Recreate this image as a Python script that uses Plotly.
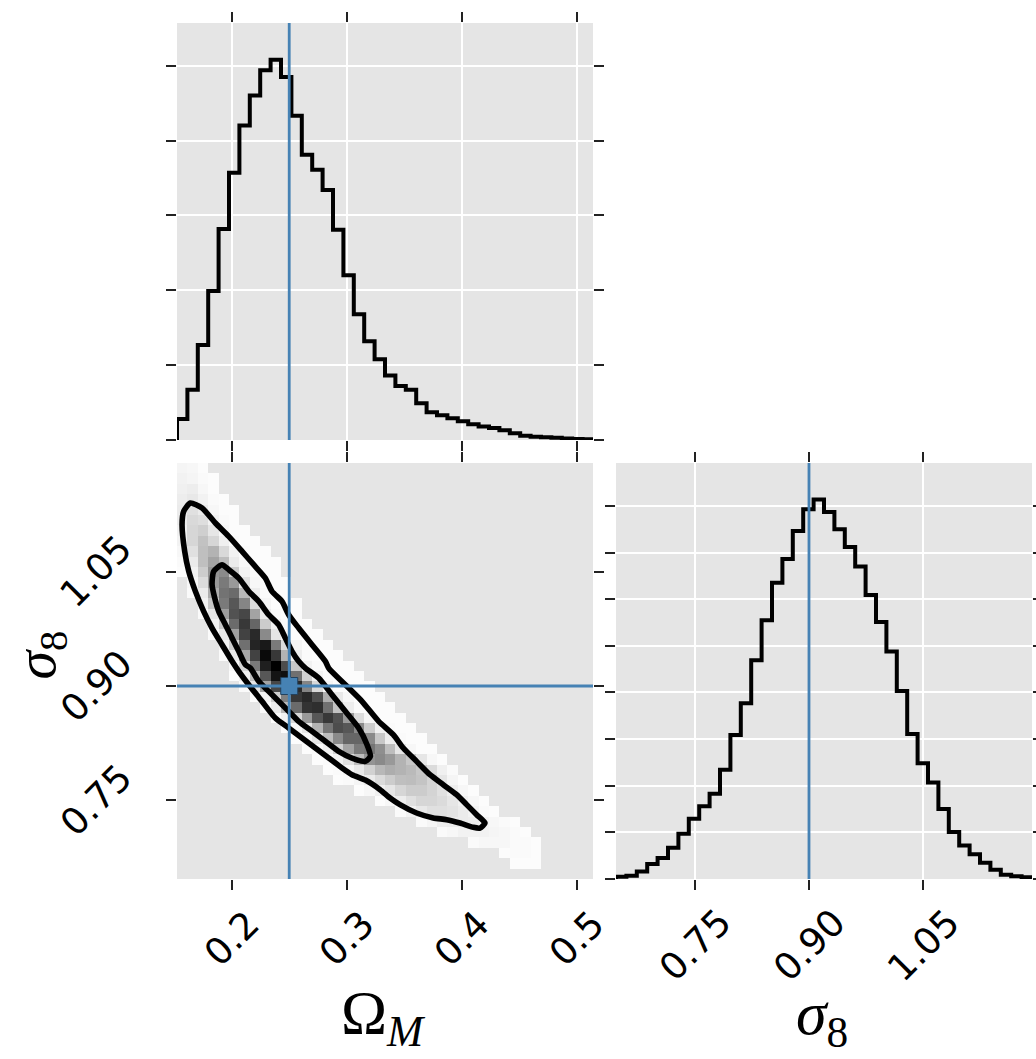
import numpy as np
import plotly.graph_objects as go

# ---------------------------------------------------------------- data
# sample extents of the two parameters (histogram ranges)
OM_RANGE = (0.1524, 0.5142)
S8_RANGE = (0.6467, 1.1927)
N_BINS = 40

# true parameter values
OM_TRUE = 0.25
S8_TRUE = 0.90

om_ticks = [0.2, 0.3, 0.4, 0.5]
om_ticklabels = ["0.2", "0.3", "0.4", "0.5"]
s8_ticks = [0.75, 0.90, 1.05]
s8_ticklabels = ["0.75", "0.90", "1.05"]

# 1D marginal histogram of Omega_M (arbitrary count units)
om_hist = [0.28, 0.67, 1.27, 1.99, 2.82, 3.57, 4.20, 4.60, 4.94, 5.08,
           4.85, 4.33, 3.81, 3.61, 3.34, 2.81, 2.20, 1.68, 1.32, 1.08,
           0.86, 0.72, 0.67, 0.49, 0.37, 0.33, 0.29, 0.25, 0.21, 0.18,
           0.16, 0.13, 0.09, 0.057, 0.044, 0.036, 0.03, 0.02, 0.015, 0.01]

# 1D marginal histogram of sigma_8 (arbitrary count units)
s8_hist = [0.05, 0.07, 0.16, 0.32, 0.45, 0.67, 0.97, 1.29, 1.56, 1.83,
           2.34, 3.09, 3.77, 4.69, 5.55, 6.35, 6.86, 7.46, 7.93, 8.14,
           7.87, 7.50, 7.12, 6.70, 6.09, 5.51, 4.88, 4.03, 3.11, 2.48,
           2.07, 1.50, 1.01, 0.72, 0.53, 0.35, 0.20, 0.09, 0.06, 0.04]

# 2D density (fraction of the peak), one entry per sigma_8 bin from the top:
# (first occupied Omega_M bin, densities of the consecutive occupied bins)
density_rows = [
    (0, [0.04, 0.03, 0.01]),
    (0, [0.05, 0.04, 0.02, 0.01]),
    (0, [0.06, 0.07, 0.03, 0.01]),
    (0, [0.07, 0.09, 0.05, 0.02, 0.01]),
    (0, [0.08, 0.12, 0.08, 0.03, 0.01, 0.01]),
    (0, [0.08, 0.15, 0.13, 0.05, 0.02, 0.01]),
    (0, [0.06, 0.16, 0.19, 0.10, 0.03, 0.01, 0.01]),
    (0, [0.05, 0.16, 0.24, 0.16, 0.06, 0.02, 0.01, 0.01]),
    (0, [0.03, 0.12, 0.25, 0.30, 0.15, 0.05, 0.02, 0.01, 0.01]),
    (0, [0.02, 0.08, 0.25, 0.36, 0.26, 0.08, 0.03, 0.01, 0.01, 0.01]),
    (0, [0.01, 0.05, 0.20, 0.42, 0.46, 0.20, 0.05, 0.02, 0.01, 0.01]),
    (1, [0.03, 0.14, 0.40, 0.52, 0.40, 0.12, 0.03, 0.01, 0.01, 0.01]),
    (1, [0.02, 0.08, 0.32, 0.55, 0.58, 0.28, 0.07, 0.02, 0.01, 0.01]),
    (2, [0.05, 0.22, 0.52, 0.66, 0.48, 0.14, 0.04, 0.01, 0.01, 0.01]),
    (2, [0.02, 0.10, 0.38, 0.68, 0.72, 0.36, 0.08, 0.02, 0.01, 0.01]),
    (3, [0.05, 0.22, 0.58, 0.78, 0.60, 0.20, 0.05, 0.02, 0.01, 0.01]),
    (3, [0.02, 0.10, 0.38, 0.74, 0.84, 0.46, 0.10, 0.03, 0.01, 0.01, 0.01]),
    (4, [0.05, 0.20, 0.56, 0.86, 0.90, 0.52, 0.14, 0.04, 0.01, 0.01, 0.01]),
    (4, [0.02, 0.08, 0.34, 0.74, 0.96, 0.78, 0.30, 0.07, 0.02, 0.01, 0.01, 0.01]),
    (5, [0.03, 0.16, 0.52, 0.88, 1.00, 0.70, 0.22, 0.05, 0.02, 0.01, 0.01, 0.01]),
    (5, [0.01, 0.06, 0.26, 0.66, 0.92, 0.94, 0.56, 0.18, 0.05, 0.02, 0.01, 0.01, 0.01]),
    (6, [0.02, 0.10, 0.36, 0.72, 0.90, 0.84, 0.48, 0.15, 0.04, 0.01, 0.01, 0.01, 0.01]),
    (7, [0.01, 0.05, 0.20, 0.50, 0.78, 0.84, 0.70, 0.32, 0.09, 0.03, 0.01, 0.01, 0.01]),
    (8, [0.02, 0.08, 0.28, 0.58, 0.80, 0.82, 0.56, 0.24, 0.07, 0.02, 0.01, 0.01, 0.01]),
    (9, [0.01, 0.05, 0.16, 0.40, 0.66, 0.78, 0.68, 0.40, 0.14, 0.04, 0.01, 0.01, 0.01]),
    (10, [0.01, 0.03, 0.10, 0.30, 0.54, 0.70, 0.66, 0.46, 0.20, 0.06, 0.02, 0.01, 0.01]),
    (11, [0.01, 0.03, 0.10, 0.26, 0.46, 0.60, 0.60, 0.46, 0.22, 0.07, 0.02, 0.01, 0.01]),
    (12, [0.01, 0.02, 0.06, 0.18, 0.36, 0.52, 0.54, 0.44, 0.26, 0.10, 0.03, 0.01, 0.01]),
    (13, [0.01, 0.02, 0.05, 0.12, 0.26, 0.42, 0.46, 0.40, 0.30, 0.22, 0.10, 0.03, 0.01]),
    (14, [0.01, 0.02, 0.04, 0.09, 0.18, 0.28, 0.32, 0.30, 0.27, 0.22, 0.14, 0.06, 0.02]),
    (15, [0.01, 0.02, 0.04, 0.08, 0.14, 0.20, 0.25, 0.26, 0.23, 0.17, 0.10, 0.04, 0.01]),
    (17, [0.01, 0.03, 0.06, 0.10, 0.16, 0.20, 0.20, 0.17, 0.12, 0.07, 0.03, 0.01]),
    (19, [0.01, 0.03, 0.07, 0.12, 0.16, 0.16, 0.14, 0.10, 0.06, 0.03, 0.01]),
    (21, [0.02, 0.05, 0.09, 0.12, 0.12, 0.11, 0.08, 0.05, 0.02, 0.01]),
    (23, [0.02, 0.04, 0.07, 0.08, 0.08, 0.07, 0.05, 0.03, 0.02, 0.01]),
    (25, [0.02, 0.03, 0.05, 0.05, 0.05, 0.04, 0.03, 0.02, 0.01]),
    (28, [0.02, 0.03, 0.03, 0.03, 0.02, 0.02, 0.01]),
    (31, [0.01, 0.02, 0.02, 0.01]),
    (32, [0.01, 0.01, 0.01]),
    (0, []),
]

# credible-region contours (Omega_M, sigma_8)
outer_om = [0.1640, 0.1742, 0.1858, 0.1974, 0.2090, 0.2191, 0.2292, 0.2350,
            0.2437, 0.2495, 0.2582, 0.2698, 0.2814, 0.2843, 0.2988, 0.3133,
            0.3278, 0.3405, 0.3492, 0.3608, 0.3724, 0.3840, 0.3956, 0.4043,
            0.4130, 0.4203, 0.4159, 0.4101, 0.3985, 0.3869, 0.3753, 0.3608,
            0.3463, 0.3377, 0.3290, 0.3162, 0.3046, 0.2959, 0.2843, 0.2727,
            0.2611, 0.2495, 0.2379, 0.2263, 0.2148, 0.2061, 0.2003, 0.1916,
            0.1829, 0.1756, 0.1684, 0.1626, 0.1591, 0.1568, 0.1582, 0.1640]
outer_s8 = [1.1402, 1.1336, 1.1139, 1.0964, 1.0767, 1.0592, 1.0417, 1.0242,
            1.0111, 0.9936, 0.9761, 0.9542, 0.9324, 0.9236, 0.9017, 0.8799,
            0.8536, 0.8361, 0.8186, 0.8011, 0.7836, 0.7705, 0.7574, 0.7443,
            0.7311, 0.7202, 0.7136, 0.7145, 0.7202, 0.7246, 0.7268, 0.7333,
            0.7443, 0.7530, 0.7640, 0.7766, 0.7836, 0.7924, 0.8055, 0.8186,
            0.8318, 0.8449, 0.8580, 0.8799, 0.9017, 0.9193, 0.9324, 0.9542,
            0.9761, 0.9980, 1.0242, 1.0505, 1.0767, 1.1117, 1.1292, 1.1402]

inner_om = [0.1916, 0.1974, 0.2061, 0.2148, 0.2235, 0.2321, 0.2408, 0.2466,
            0.2524, 0.2582, 0.2640, 0.2756, 0.2872, 0.2988, 0.3104, 0.3177,
            0.3206, 0.3162, 0.3046, 0.2930, 0.2814, 0.2698, 0.2582, 0.2495,
            0.2408, 0.2321, 0.2235, 0.2162, 0.2119, 0.2061, 0.2003, 0.1945,
            0.1887, 0.1852, 0.1829, 0.1843, 0.1916]
inner_s8 = [1.0592, 1.0527, 1.0417, 1.0242, 1.0111, 0.9936, 0.9805, 0.9630,
            0.9455, 0.9324, 0.9236, 0.9105, 0.8886, 0.8668, 0.8449, 0.8230,
            0.8077, 0.8011, 0.8055, 0.8143, 0.8274, 0.8405, 0.8536, 0.8668,
            0.8799, 0.8930, 0.9061, 0.9236, 0.9280, 0.9455, 0.9630, 0.9805,
            0.9980, 1.0155, 1.0330, 1.0505, 1.0592]

# ---------------------------------------------------------------- styling
BG = "#e5e5e5"
TRUTH = "#4682b4"
TICK_FONT = dict(family="DejaVu Sans", size=37, color="black")
LABEL_FONT = dict(family="Liberation Serif", size=62, color="black")
W, H = 1036, 1059

# panel boxes in pixels (left, right, top, bottom)
P_TOP = (177, 593, 23, 440)
P_2D = (177, 593, 463, 879)
P_RIGHT = (616, 1032, 463, 879)


def xdom(p):
    return [p[0] / W, p[1] / W]


def ydom(p):
    return [1 - p[3] / H, 1 - p[2] / H]


def step_path(vals, lo, hi):
    edges = np.linspace(lo, hi, len(vals) + 1)
    xs = np.concatenate([[edges[0]], np.repeat(edges, 2)[1:-1], [edges[-1]]])
    ys = np.concatenate([[0.0], np.repeat(vals, 2), [0.0]])
    return xs, ys


fig = go.Figure()

# top: Omega_M marginal
hx, hy = step_path(om_hist, *OM_RANGE)
fig.add_trace(go.Scatter(x=hx, y=hy, mode="lines", xaxis="x", yaxis="y",
                         line=dict(color="black", width=4), hoverinfo="skip"))

# right: sigma_8 marginal
hx, hy = step_path(s8_hist, *S8_RANGE)
fig.add_trace(go.Scatter(x=hx, y=hy, mode="lines", xaxis="x2", yaxis="y2",
                         line=dict(color="black", width=4), hoverinfo="skip"))

# joint density
om_edges = np.linspace(OM_RANGE[0], OM_RANGE[1], N_BINS + 1)
s8_edges = np.linspace(S8_RANGE[0], S8_RANGE[1], N_BINS + 1)
om_c = 0.5 * (om_edges[1:] + om_edges[:-1])
s8_c = 0.5 * (s8_edges[1:] + s8_edges[:-1])
grid = []
for start, vals in density_rows:
    row = [None] * N_BINS
    for k, v in enumerate(vals):
        row[start + k] = v
    grid.append(row)
grid = grid[::-1]  # bottom row first
fig.add_trace(go.Heatmap(x=om_c, y=s8_c, z=grid, xaxis="x3", yaxis="y3",
                         zmin=0, zmax=1, showscale=False, hoverinfo="skip",
                         colorscale=[[0, "#ffffff"], [1, "#000000"]]))

for cx, cy in ((outer_om, outer_s8), (inner_om, inner_s8)):
    fig.add_trace(go.Scatter(x=cx, y=cy, mode="lines", xaxis="x3", yaxis="y3",
                             line=dict(color="black", width=5.6, shape="spline",
                                       smoothing=0.6),
                             hoverinfo="skip"))

fig.add_trace(go.Scatter(x=[OM_TRUE], y=[S8_TRUE], mode="markers",
                         xaxis="x3", yaxis="y3", hoverinfo="skip",
                         marker=dict(symbol="square", size=17, color=TRUTH,
                                     line=dict(color="#23425e", width=1))))

# truth lines
shapes = [
    dict(type="line", xref="x", yref="y domain", x0=OM_TRUE, x1=OM_TRUE, y0=0, y1=1),
    dict(type="line", xref="x3", yref="y3 domain", x0=OM_TRUE, x1=OM_TRUE, y0=0, y1=1),
    dict(type="line", xref="x3 domain", yref="y3", x0=0, x1=1, y0=S8_TRUE, y1=S8_TRUE),
    dict(type="line", xref="x2", yref="y2 domain", x0=S8_TRUE, x1=S8_TRUE, y0=0, y1=1),
]
for s in shapes:
    s["line"] = dict(color=TRUTH, width=2.8)
    s["layer"] = "above"

common = dict(ticks="outside", ticklen=10, tickwidth=2, tickcolor="#222222",
              mirror="ticks", showline=False, zeroline=False,
              showticklabels=False, gridcolor="white", gridwidth=1.6)

layout = dict(
    width=W, height=H, margin=dict(l=0, r=0, t=0, b=0),
    paper_bgcolor="white", plot_bgcolor=BG, showlegend=False,
    shapes=shapes,
    xaxis=dict(domain=xdom(P_TOP), anchor="y", range=list(OM_RANGE),
               tickvals=om_ticks, showgrid=True, **common),
    yaxis=dict(domain=ydom(P_TOP), anchor="x", range=[0, 5.57],
               tickvals=[0, 1, 2, 3, 4, 5], showgrid=True, **common),
    xaxis2=dict(domain=xdom(P_RIGHT), anchor="y2", range=list(S8_RANGE),
                tickvals=s8_ticks, showgrid=True, **common),
    yaxis2=dict(domain=ydom(P_RIGHT), anchor="x2", range=[0, 8.92],
                tickvals=list(range(9)), showgrid=True, **common),
    xaxis3=dict(domain=xdom(P_2D), anchor="y3", range=list(OM_RANGE),
                tickvals=om_ticks, showgrid=False, **common),
    yaxis3=dict(domain=ydom(P_2D), anchor="x3", range=list(S8_RANGE),
                tickvals=s8_ticks, showgrid=False, **common),
)

annotations = []
# rotated tick labels, centred under / beside their ticks
for v, t in zip(om_ticks, om_ticklabels):
    annotations.append(dict(x=v, xref="x3", y=1 - 938 / H, yref="paper",
                            text=t, textangle=-45, showarrow=False,
                            xanchor="center", yanchor="middle", font=TICK_FONT))
for v, t in zip(s8_ticks, s8_ticklabels):
    annotations.append(dict(x=v, xref="x2", y=1 - 945 / H, yref="paper",
                            text=t, textangle=-45, showarrow=False,
                            xanchor="center", yanchor="middle", font=TICK_FONT))
    annotations.append(dict(x=96 / W, xref="paper", y=v, yref="y3",
                            text=t, textangle=-45, showarrow=False,
                            xanchor="center", yanchor="middle", font=TICK_FONT))

# axis titles
annotations.append(dict(x=383 / W, y=1 - 1016 / H, xref="paper", yref="paper",
                        text="Ω<sub><i>M</i></sub>", showarrow=False,
                        xanchor="center", yanchor="middle", font=LABEL_FONT))
annotations.append(dict(x=822 / W, y=1 - 1018 / H, xref="paper", yref="paper",
                        text="<i>σ</i><sub>8</sub>", showarrow=False,
                        xanchor="center", yanchor="middle", font=LABEL_FONT))
annotations.append(dict(x=0, y=1 - 655 / H, xref="paper", yref="paper",
                        text="<i>σ</i><sub>8</sub>", showarrow=False, textangle=-90,
                        xanchor="left", yanchor="middle",
                        font=dict(LABEL_FONT, size=58)))
layout["annotations"] = annotations

fig.update_layout(**layout)
fig.write_html("out.html")
